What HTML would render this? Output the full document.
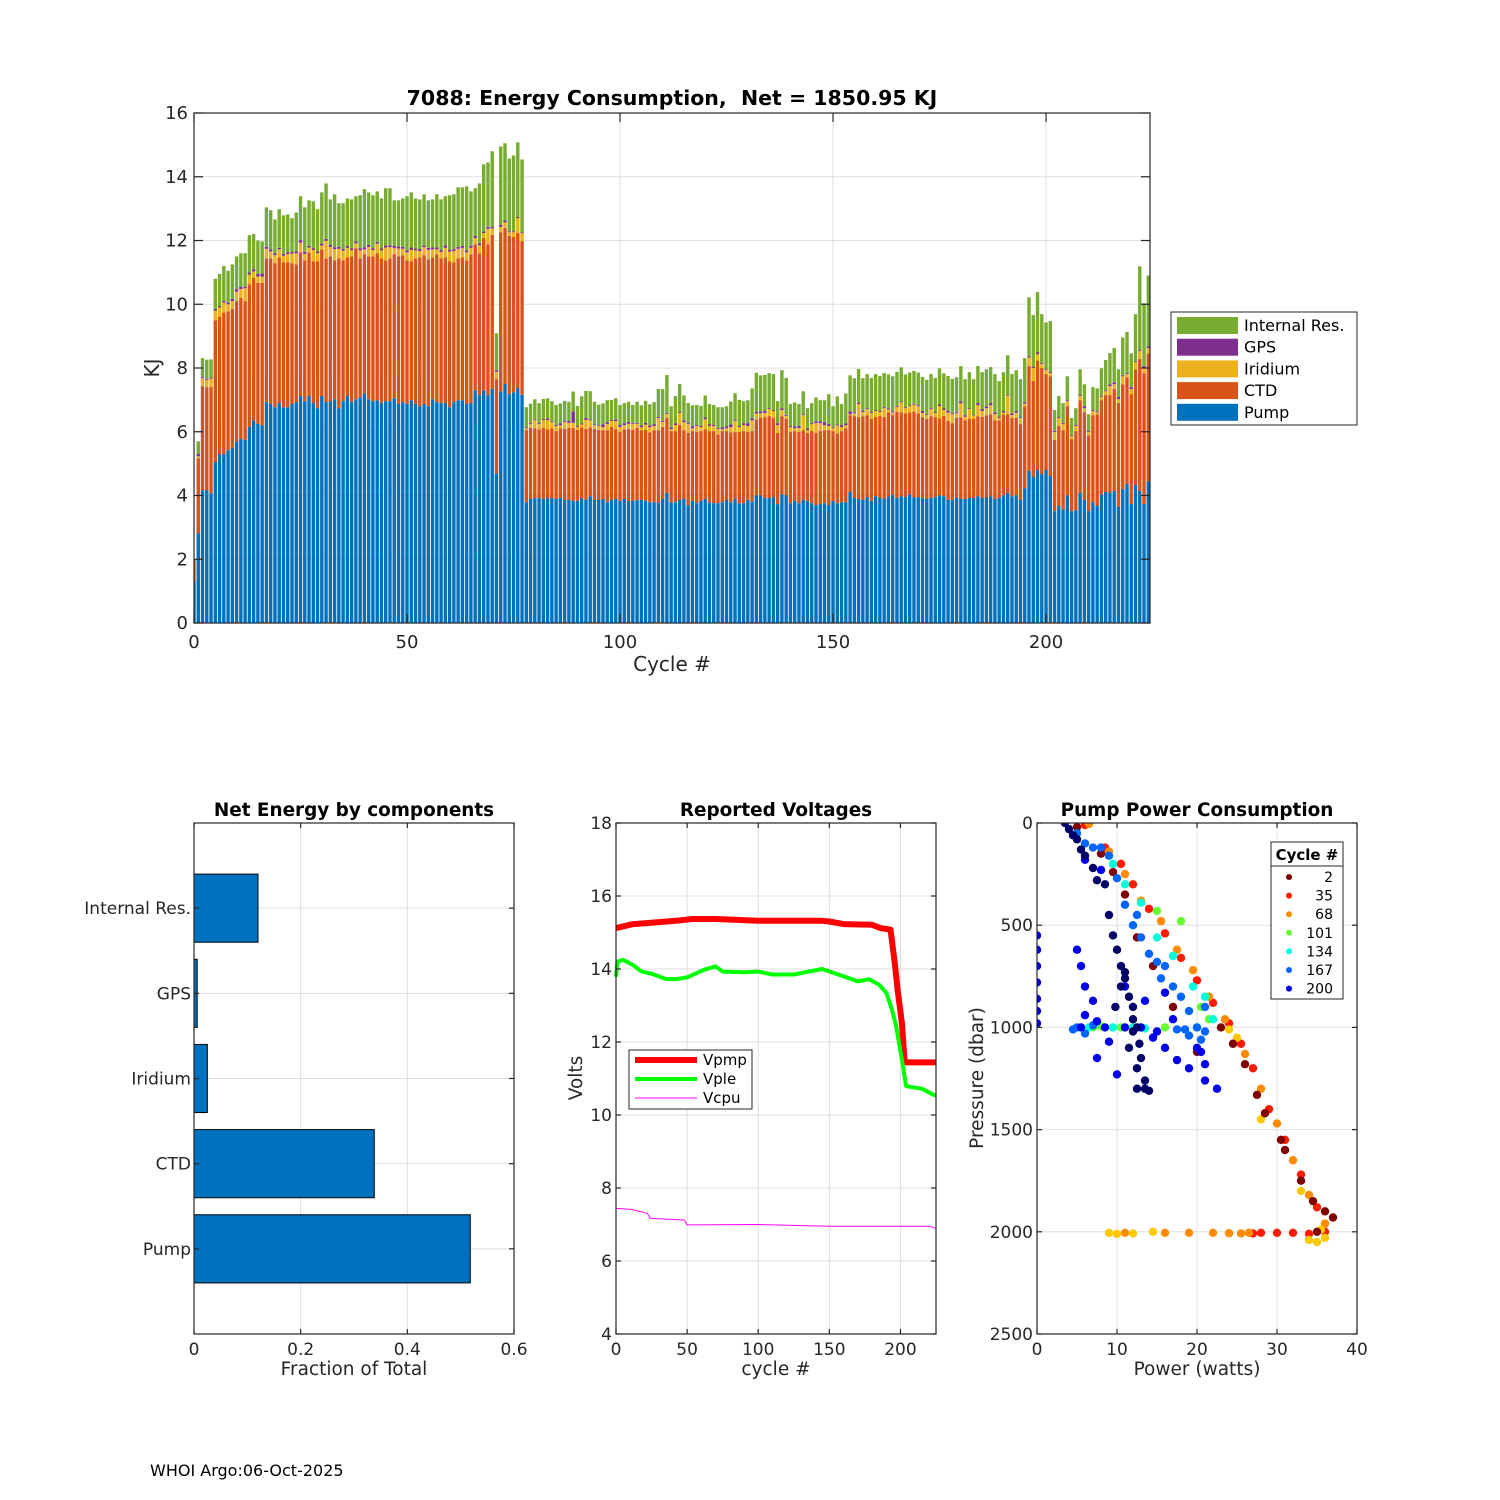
<!DOCTYPE html>
<html><head><meta charset="utf-8"><title>7088 Energy Consumption</title>
<style>
html,body{margin:0;padding:0;background:#fff;}
svg{display:block;font-family:"DejaVu Sans","Liberation Sans",sans-serif;}
text{white-space:pre;}
</style></head>
<body>
<svg id="fig" width="1500" height="1500" viewBox="0 0 1500 1500" xmlns="http://www.w3.org/2000/svg" xml:space="preserve"></svg>
<script>
// ---------- Top chart data (cycle 0..224), KJ ----------
const pump = [1.3,2.82,4.17,4.17,4.07,5.05,5.3,5.3,5.42,5.5,5.7,5.77,5.75,6.15,6.35,6.25,6.2,
6.93,6.87,6.77,6.90,6.77,6.77,6.87,6.93,7.12,6.96,7.12,6.90,6.74,7.12,6.93,6.96,7.02,6.74,6.96,7.12,6.93,7.02,7.08,7.21,7.02,6.96,6.99,6.90,6.96,6.96,7.05,6.87,6.93,6.87,6.99,6.87,6.80,6.87,6.80,7.02,6.93,6.90,6.90,6.77,6.93,6.99,6.99,6.87,6.90,7.30,7.15,
7.3,7.15,7.35,4.7,7.27,7.5,7.18,7.24,7.37,7.16,
3.79,3.89,3.92,3.92,3.89,3.92,3.92,3.89,3.92,3.86,3.86,3.83,3.83,3.92,3.86,3.98,3.86,3.86,3.89,3.79,3.86,3.89,3.83,3.89,3.83,3.83,3.86,3.86,3.83,3.79,3.79,3.79,3.89,4.08,3.79,3.79,3.86,3.89,3.70,3.83,3.76,3.83,3.89,3.79,3.76,3.76,3.79,3.86,
3.79,3.89,3.76,3.76,3.86,3.79,4.0,4.0,3.92,3.92,3.95,3.73,4.04,4.0,3.76,3.83,3.76,3.86,3.83,3.76,3.70,3.73,3.76,3.70,3.83,3.76,3.79,3.79,4.11,3.92,3.89,3.86,3.95,3.83,3.98,3.92,3.89,3.98,4.01,3.92,3.98,3.95,4.04,3.94,3.95,3.92,3.89,3.92,3.95,4.01,
3.98,3.86,3.86,3.92,3.89,3.89,3.92,3.92,3.98,3.92,3.95,3.98,3.89,3.92,4.01,4.08,3.98,4.01,3.86,4.23,4.77,4.58,4.8,4.67,4.8,4.61,3.51,3.67,3.57,4.01,3.51,3.54,4.08,3.86,3.51,3.79,3.67,4.04,4.11,4.08,4.14,3.64,4.2,4.36,3.73,4.33,4.14,3.73,4.45];
const ctd = [0.62,2.35,3.26,3.23,3.33,4.45,4.3,4.44,4.36,4.35,4.4,4.43,4.35,4.48,4.48,4.42,4.47,
4.51,4.57,4.52,4.57,4.55,4.55,4.42,4.32,4.51,4.42,4.51,4.45,4.61,4.60,4.51,4.54,4.36,4.70,4.42,4.35,4.57,4.74,4.36,4.36,4.48,4.54,4.61,4.54,4.42,4.48,4.52,4.63,4.61,4.51,4.36,4.57,4.67,4.67,4.61,4.45,4.64,4.54,4.57,4.58,4.39,4.45,4.48,4.51,4.67,4.58,4.45,
4.78,4.73,4.83,2.95,4.99,4.89,4.96,4.87,4.86,4.82,
2.26,2.23,2.19,2.16,2.23,2.16,2.19,2.13,2.19,2.23,2.26,2.29,2.23,2.22,2.23,2.16,2.23,2.20,2.16,2.26,2.29,2.19,2.16,2.19,2.26,2.23,2.26,2.19,2.23,2.19,2.26,2.26,2.26,2.35,2.23,2.23,2.35,2.16,2.26,2.19,2.23,2.19,2.19,2.23,2.26,2.16,2.23,2.16,
2.19,2.10,2.23,2.26,2.13,2.23,2.38,2.45,2.54,2.57,2.48,2.23,2.45,2.41,2.23,2.19,2.23,2.19,2.13,2.26,2.26,2.29,2.29,2.35,2.19,2.19,2.23,2.32,2.41,2.57,2.57,2.63,2.57,2.57,2.48,2.57,2.57,2.63,2.51,2.70,2.63,2.63,2.57,2.69,2.63,2.54,2.51,2.57,2.51,2.41,
2.52,2.48,2.41,2.52,2.56,2.47,2.49,2.48,2.51,2.55,2.57,2.57,2.47,2.44,2.54,2.47,2.45,2.42,2.38,2.57,3.29,3.01,3.44,3.33,3.01,3.13,2.23,2.51,2.48,2.79,2.26,2.48,2.91,2.75,2.38,2.73,2.88,2.95,3.04,3.07,3.2,3.26,3.29,3.35,3.45,3.63,4.14,4.11,4.01];
const iridium = [0,0.06,0.25,0.23,0.27,0.3,0.3,0.31,0.22,0.25,0.3,0.28,0.4,0.3,0.2,0.2,0.2,
.3,.22,.25,.25,.2,.25,.3,.35,.3,.2,.15,.35,.25,.12,.55,.3,.35,.3,.3,.3,.2,.15,.25,.15,.3,.2,.3,.25,.4,.35,.2,.25,.2,.25,.35,.25,.2,.25,.3,.25,.15,.2,.3,.3,.35,.3,.3,.25,.2,.2,.25,
.15,.49,.2,.23,.17,.18,.12,.15,.47,.25,
.06,.13,.25,.16,.25,.28,.19,.16,.09,.22,.16,.16,.09,.09,.28,.22,.13,.13,.09,.19,.19,.25,.16,.13,.16,.19,.13,.09,.16,.16,.13,.38,.16,.13,.06,.19,.38,.25,.28,.09,.19,.13,.31,.16,.16,.16,.06,.09,
.16,.34,.16,.19,.19,.34,.19,.13,.13,.22,.22,.25,.19,.09,.16,.09,.13,.47,.09,.22,.31,.25,.16,.13,.09,.25,.13,.09,.03,.09,.41,.13,.19,.19,.19,.13,.28,.09,.09,.16,.31,.16,.19,.22,.22,.13,.13,.22,.13,.38,
.18,.26,.28,.14,.44,.11,.30,.10,.34,.18,.22,.28,.19,.07,.05,.58,.09,.17,.19,.08,.27,.41,.19,.12,.12,.1,.25,.25,.19,.16,.09,.16,.13,.13,.1,.13,.06,.11,.12,.28,.15,.12,.25,.1,.16,.22,.25,.16,.16];
const gps = [0.03,0.07,0.03,0.03,0.03,0.05,0.05,0.05,0.05,0.07,0.07,0.07,0.05,0.07,0.07,0.08,0.1,
.06,.06,.06,.05,.06,.06,.05,.06,.08,.06,.05,.06,.06,.06,.06,.06,.06,.06,.06,.06,.06,.06,.06,.06,.06,.06,.06,.06,.06,.06,.06,.06,.06,.06,.08,.06,.06,.06,.06,.06,.06,.06,.08,.06,.06,.06,.06,.06,.06,.06,.06,
.05,.06,.05,.05,.06,.06,.03,.03,.04,.03,
.03,.03,.03,.03,.03,.06,.03,.03,.06,.03,.06,.36,.03,.03,.06,.03,.03,.03,.09,.06,.03,.06,.06,.06,.06,.03,.03,.06,.06,.06,.06,.03,.03,.03,.06,.06,.03,.06,.03,.06,.03,.03,.06,.06,.03,.03,.06,.06,
.09,.03,.03,.06,.09,.06,.06,.06,.06,.03,.03,.06,.06,.03,.03,.06,.06,.03,.06,.03,.06,.06,.09,.06,.03,.03,.06,.06,.09,.03,.03,.03,.03,.03,.03,.03,.03,.03,.03,.03,.03,.03,.03,.03,.03,.06,.03,.03,.03,.06,
.05,.06,.03,.03,.07,.05,.03,.02,.07,.06,.06,.07,.06,.03,.05,.03,.06,.05,.03,.05,.04,.03,.07,.03,.03,.03,.03,.03,.03,.03,.03,.03,.03,.06,.03,.03,.03,.03,.03,.06,.06,.07,.03,.03,.06,.03,.03,.06,.06];
const internal = [0.05,0.4,0.6,0.6,0.57,0.95,1.0,1.1,1.0,1.08,1.03,1.05,1.05,1.17,1.1,1.05,1.0,
1.24,1.23,1.06,1.21,1.21,1.19,1.06,1.22,1.38,1.4,1.43,1.47,1.32,1.61,1.74,1.43,1.66,1.37,1.43,1.49,1.53,1.42,1.67,1.83,1.65,1.66,1.58,1.57,1.80,1.79,1.43,1.45,1.52,1.70,1.73,1.57,1.56,1.60,1.49,1.51,1.67,1.59,1.54,1.71,1.72,1.87,1.84,2.01,1.71,1.5,1.88,
2.11,2.02,2.37,1.16,2.46,2.42,2.28,2.38,2.34,2.28,
.63,.6,.63,.63,.63,.63,.63,.63,.63,.63,.6,.62,.63,.85,.85,.88,.69,.63,.66,.69,.63,.66,.63,.63,.63,.56,.66,.63,.69,.66,.69,.88,1.0,1.19,.66,.85,.88,.78,.63,.66,.63,.63,.69,.63,.63,.66,.63,.63,
.72,.85,.82,.69,.72,.94,1.22,1.13,1.13,1.10,1.13,.69,1.19,1.16,.69,.75,.69,.72,.63,.63,.75,.66,.69,.94,.66,.88,.66,.94,1.13,1.07,1.07,1.03,1.07,1.07,1.13,1.10,1.07,1.07,1.10,1.07,1.07,1.03,1.03,1.03,1.03,1.07,1.07,1.07,1.07,1.13,
1.10,1.09,1.08,1.10,1.10,1.13,1.13,1.13,1.16,1.16,1.16,1.13,1.2,1.13,1.22,1.24,1.23,1.28,1.19,1.38,1.85,1.63,1.88,1.54,1.47,1.6,.66,.66,.63,.75,.54,.53,.81,.69,.53,.72,.72,.86,.95,.98,1.08,.87,1.19,1.29,1.06,1.48,2.63,1.97,2.22];
const topYTicks = [0,2,4,6,8,10,12,14,16];
const topXTicks = [0,50,100,150,200];
const legendLabels = ["Internal Res.","GPS","Iridium","CTD","Pump"];

// ---------- Bottom-left data ----------
const compNames = ["Pump","CTD","Iridium","GPS","Internal Res."];
const compFraction = [0.518,0.338,0.025,0.006,0.12];
const fracTicks = [0,0.2,0.4,0.6];

// ---------- Voltages ----------
const vpmpCyc = [0,12,26,42,54,70,100,145,150,160,180,186,193,196,198,201,203,225];
const vpmp = [15.12,15.23,15.27,15.32,15.37,15.37,15.32,15.32,15.3,15.23,15.21,15.12,15.08,14.16,13.43,12.52,11.44,11.44];
const vpleCyc = [0,1,5,12,18,25,35,42,50,62,70,75,90,100,110,125,145,160,170,178,185,190,194,197,201,204,215,225];
const vple = [13.79,14.2,14.25,14.11,13.93,13.87,13.73,13.72,13.77,13.98,14.07,13.93,13.91,13.93,13.85,13.85,14.0,13.8,13.66,13.72,13.57,13.35,12.89,12.43,11.52,10.79,10.72,10.52];
const vcpuCyc = [0,10,22,24,48,50,100,150,220,225];
const vcpu = [7.44,7.42,7.31,7.17,7.12,6.99,7.0,6.95,6.95,6.9];
const voltYTicks = [4,6,8,10,12,14,16,18];
const voltXTicks = [0,50,100,150,200];

// ---------- Pump power scatter (power W, pressure dbar) ----------
const c2P = [5,8,9.5,11,12.5,14.5,17,20,23,24.5,26,27.5,28.5,30.5,31,33,34.5,36,37,35];
const c2D = [20,150,240,350,560,700,900,1120,1000,1080,1180,1330,1420,1550,1600,1750,1850,1900,1930,2000];
const c35P = [6,8.5,10.5,12,14,16,18,20,22,24,25.5,27,29,31,33,35,30,32,34,36,28,27];
const c35D = [10,120,200,300,420,540,660,770,880,980,1080,1200,1400,1550,1720,1880,2005,2005,2010,2000,2005,2008];
const c68P = [6.5,9,11,13,15.5,17.5,19.5,21.5,23.5,26,28,30,32,34,36,22,24,25.5,26.5,11,16,19];
const c68D = [5,140,250,380,480,620,720,850,960,1130,1300,1470,1650,1820,1960,2005,2007,2008,2005,2005,2005,2005];
const c85P = [35,34,9,10,12,28,36,33,24,25,14.5,35.5];
const c85D = [2050,2040,2005,2010,2008,1450,2030,1800,1010,1050,2000,1990];
const c101P = [18,10.5,13,7,8,16,20.5,15,21.5];
const c101D = [480,1000,1000,1000,995,1000,900,430,960];
const c134P = [9.5,13,15,17,19.5,21,9.5,12,13.5,20,6.5,22,11];
const c134D = [200,390,560,650,800,850,1000,1000,1005,1000,1000,960,300];
const c167P = [5,6,7,11,12,14,16,18,19,20,21,17,15,13,6,5,7,4.5,20.5,18.5,8,9,10,12.5,15.5,19,21,17.5];
const c167D = [50,100,120,400,500,640,700,850,920,1000,900,800,680,560,1030,1000,990,1010,1060,1010,120,160,270,450,760,1040,1020,1010];
const c200P = [0,0,0,0,0,0,0,5,5.5,6,7,6,8.5,5.5,7.5,9,11,13,14.5,16,17.5,19,21,20.5,17,15,13.5,16,20,22.5,21,7.5,10,6,8,11];
const c200D = [550,620,700,780,860,920,980,620,700,800,870,940,1000,1000,970,1070,800,1000,1050,1100,1160,1200,1180,1120,960,1020,870,830,1100,1300,1260,1150,1230,180,230,1000];
const c220P = [3.5,4,5,6,7,7.5,8.5,9,9.5,10,10.5,11,11.5,12,12,12.5,12.8,13,12.5,13.5,13.5,12.5,14,11,10.5,12,11.5,9.8,4.5,5.5];
const c220D = [0,30,80,160,220,280,300,450,550,620,700,760,850,900,960,1000,1080,1150,1200,1260,1300,1300,1310,730,800,1020,1100,900,60,130];
const scatterLegend = ["2","35","68","101","134","167","200"];
const powTicks = [0,10,20,30,40];
const presTicks = [0,500,1000,1500,2000,2500];

// ---------- drawing ----------
const NS = "http://www.w3.org/2000/svg";
const svg = document.getElementById("fig");
function mk(tag, attrs, parent){
  const e = document.createElementNS(NS, tag);
  for (const k in attrs) e.setAttribute(k, attrs[k]);
  (parent||svg).appendChild(e);
  return e;
}
function txt(x,y,s,size,anchor,weight,parent){
  const t = mk("text",{x:x,y:y,"font-size":size,"text-anchor":anchor||"middle",fill:"#262626","font-weight":weight||"normal"},parent);
  t.textContent = s;
  return t;
}
function linScale(d0,d1,r0,r1){ return v => r0 + (v-d0)/(d1-d0)*(r1-r0); }

function frame(g,x0,y0,x1,y1,xt,yt,xs,ys){
  xt.forEach(v=>{ const x=xs(v);
    mk("line",{x1:x,y1:y0,x2:x,y2:y1,stroke:"#dfdfdf","stroke-width":1},g);});
  yt.forEach(v=>{ const y=ys(v);
    mk("line",{x1:x0,y1:y,x2:x1,y2:y,stroke:"#dfdfdf","stroke-width":1},g);});
}
function box(g,x0,y0,x1,y1,xt,yt,xs,ys,tl){
  mk("rect",{x:x0,y:y0,width:x1-x0,height:y1-y0,fill:"none",stroke:"#262626","stroke-width":1.2},g);
  xt.forEach(v=>{ const x=xs(v);
    mk("line",{x1:x,y1:y1,x2:x,y2:y1-tl,stroke:"#262626","stroke-width":1.2},g);
    mk("line",{x1:x,y1:y0,x2:x,y2:y0+tl,stroke:"#262626","stroke-width":1.2},g);});
  yt.forEach(v=>{ const y=ys(v);
    mk("line",{x1:x0,y1:y,x2:x0+tl,y2:y,stroke:"#262626","stroke-width":1.2},g);
    mk("line",{x1:x1,y1:y,x2:x1-tl,y2:y,stroke:"#262626","stroke-width":1.2},g);});
}

// ===== Top chart =====
{
  const g = mk("g",{});
  
  
  const X0=194,X1=1150,Y0=113,Y1=623;
  const xs = linScale(0,224.4,X0,X1), ys = linScale(0,16,Y1,Y0);
  frame(g,X0,Y0,X1,Y1,topXTicks,topYTicks,xs,ys);
  const cols = ["#0072BD","#D95319","#EDB120","#7E2F8E","#77AC30"];
  const series = [pump,ctd,iridium,gps,internal];
  const names = ["pump","ctd","iridium","gps","internal-res"];
  const clip = mk("clipPath",{id:"topclip"},g);
  mk("rect",{x:X0,y:Y0,width:X1-X0,height:Y1-Y0},clip);
  const bg = mk("g",{"clip-path":"url(#topclip)"},g);
  for (let i=0;i<pump.length;i++){
    let base=0;
    for (let s=0;s<5;s++){
      const v = series[s][i];
      const r = mk("rect",{x:xs(i-0.4),y:ys(base+v),width:xs(0.8)-xs(0),height:ys(base)-ys(base+v),fill:cols[s]},bg);
      
      
      base+=v;
    }
  }
  box(g,X0,Y0,X1,Y1,topXTicks,topYTicks,xs,ys,9);
  topYTicks.forEach(v=>{ const t=txt(X0-6,ys(v)+6,String(v),18,"end",null,g);
    
    });
  topXTicks.forEach(v=>{ const t=txt(xs(v),Y1+25,String(v),18,"middle",null,g);
    
    });
  const ti = txt(672,105,"7088: Energy Consumption,  Net = 1850.95 KJ",20.5,"middle","bold",g);
  ti.setAttribute('fill','#000');
  
  
  const xl = txt(672,671,"Cycle #",20,"middle",null,g);
  
  
  const yl = txt(0,0,"KJ",20,"middle",null,g);
  yl.setAttribute('transform','translate(159,368) rotate(-90)');
  
  
  const lg = mk("g",{},g);
  
  
  mk("rect",{x:1171,y:312,width:186,height:113,fill:"#fff",stroke:"#262626","stroke-width":1},lg);
  const lcols = ["#77AC30","#7E2F8E","#EDB120","#D95319","#0072BD"];
  legendLabels.forEach((s,k)=>{
    const yy = 325 + k*21.7;
    const p = mk("rect",{x:1177,y:yy-8,width:61,height:17,fill:lcols[k]},lg);
    
    
    const t = txt(1244,yy+6,s,16,"start",null,lg);
    t.setAttribute('fill','#000');
    
    
  });
}

// ===== Bottom-left =====
{
  const g = mk("g",{});
  
  
  const X0=194,X1=514,Y0=823,Y1=1334;
  const xs = linScale(0,0.6,X0,X1), ys = linScale(0,6,Y1,Y0);
  const cats=[1,2,3,4,5];
  frame(g,X0,Y0,X1,Y1,fracTicks,cats,xs,ys);
  compFraction.forEach((v,k)=>{
    const r = mk("rect",{x:xs(0),y:ys(k+1.4),width:xs(v)-xs(0),height:ys(k+0.6)-ys(k+1.4),fill:"#0072BD",stroke:"#000","stroke-width":1},g);
    
    
  });
  box(g,X0,Y0,X1,Y1,fracTicks,cats,xs,ys,5);
  compNames.forEach((s,k)=>{ const t=txt(X0-3,ys(k+1)+6,s,17,"end",null,g);
    
    });
  fracTicks.forEach(v=>{ const t=txt(xs(v),Y1+21,String(v),17,"middle",null,g);
    
    });
  const ti=txt(354,816,"Net Energy by components",18.4,"middle","bold",g);
  ti.setAttribute('fill','#000');
  
  
  const xl=txt(354,1375,"Fraction of Total",18.5,"middle",null,g);
  
  
}

// ===== Bottom-middle voltages =====
{
  const g = mk("g",{});
  
  
  const X0=616,X1=936,Y0=823,Y1=1334;
  const xs = linScale(0,225,X0,X1), ys = linScale(4,18,Y1,Y0);
  frame(g,X0,Y0,X1,Y1,voltXTicks,voltYTicks,xs,ys);
  function line(cyc,vals,col,w,name){
    let d="";
    cyc.forEach((c,k)=>{ d += (k?"L":"M")+xs(c).toFixed(1)+","+ys(vals[k]).toFixed(1); });
    const p = mk("path",{d:d,fill:"none",stroke:col,"stroke-width":w,"stroke-linejoin":"round"},g);
    
    
  }
  line(vpmpCyc,vpmp,"#ff0000",6,"vpmp-line");
  line(vpleCyc,vple,"#00ff00",4,"vple-line");
  line(vcpuCyc,vcpu,"#ff00ff",1,"vcpu-line");
  box(g,X0,Y0,X1,Y1,voltXTicks,voltYTicks,xs,ys,5);
  voltYTicks.forEach(v=>{ const t=txt(X0-4,ys(v)+6,String(v),17,"end",null,g);
    
    });
  voltXTicks.forEach(v=>{ const t=txt(xs(v),Y1+21,String(v),17,"middle",null,g);
    
    });
  const ti=txt(776,816,"Reported Voltages",18.4,"middle","bold",g);
  ti.setAttribute('fill','#000');
  
  
  const xl=txt(776,1375,"cycle #",18.5,"middle",null,g);
  
  
  const yl=txt(0,0,"Volts",18.5,"middle",null,g);
  yl.setAttribute('transform','translate(582,1078) rotate(-90)');
  
  
  const lg = mk("g",{},g);
  
  
  mk("rect",{x:629,y:1050,width:123,height:59,fill:"#fff",stroke:"#262626","stroke-width":1},lg);
  [["Vpmp","#ff0000",6],["Vple","#00ff00",4],["Vcpu","#ff00ff",1]].forEach((e,k)=>{
    const yy=1060+k*19;
    mk("line",{x1:635,y1:yy,x2:697,y2:yy,stroke:e[1],"stroke-width":e[2]},lg);
    const t=txt(703,yy+5,e[0],15,"start",null,lg);
    t.setAttribute('fill','#000');
    
    
  });
}

// ===== Bottom-right scatter =====
{
  const g = mk("g",{});
  
  
  const X0=1037,X1=1357,Y0=823,Y1=1334;
  const xs = linScale(0,40,X0,X1), ys = linScale(0,2500,Y0,Y1);
  frame(g,X0,Y0,X1,Y1,powTicks,presTicks,xs,ys);
  const groups = [
    [c35P,c35D,"#ff1a00","cycle-35"],
    [c68P,c68D,"#ff8c00","cycle-68"],
    [c85P,c85D,"#ffc800","cycle-85"],
    [c2P,c2D,"#800000","cycle-2"],
    [c101P,c101D,"#66ff33","cycle-101"],
    [c134P,c134D,"#00ffdd","cycle-134"],
    [c167P,c167D,"#0066ff","cycle-167"],
    [c200P,c200D,"#0000ee","cycle-200"],
    [c220P,c220D,"#000066","cycle-220"]];
  const clip = mk("clipPath",{id:"scclip"},g);
  mk("rect",{x:X0,y:Y0,width:X1-X0,height:Y1-Y0},clip);
  const sg = mk("g",{"clip-path":"url(#scclip)"},g);
  groups.forEach(gr=>{
    gr[0].forEach((p,k)=>{
      const c = mk("circle",{cx:xs(p),cy:ys(gr[1][k]),r:4.2,fill:gr[2]},sg);
      
      
    });
  });
  box(g,X0,Y0,X1,Y1,powTicks,presTicks,xs,ys,5);
  presTicks.forEach(v=>{ const t=txt(X0-4,ys(v)+6,String(v),17,"end",null,g);
    
    });
  powTicks.forEach(v=>{ const t=txt(xs(v),Y1+21,String(v),17,"middle",null,g);
    
    });
  const ti=txt(1197,816,"Pump Power Consumption",18.4,"middle","bold",g);
  ti.setAttribute('fill','#000');
  
  
  const xl=txt(1197,1375,"Power (watts)",18.5,"middle",null,g);
  
  
  const yl=txt(0,0,"Pressure (dbar)",18.5,"middle",null,g);
  yl.setAttribute('transform','translate(983,1078) rotate(-90)');
  
  
  const lg = mk("g",{},g);
  
  
  mk("rect",{x:1271,y:842,width:72,height:157,fill:"#fff",stroke:"#262626","stroke-width":1},lg);
  mk("line",{x1:1271,y1:866,x2:1343,y2:866,stroke:"#262626","stroke-width":1},lg);
  const lt=txt(1307,860,"Cycle #",15,"middle","bold",lg);
  lt.setAttribute('fill','#000');
  
  
  const lc=["#800000","#ff1a00","#ff8c00","#66ff33","#00ffdd","#0066ff","#0000ee"];
  scatterLegend.forEach((s,k)=>{
    const yy=877+k*18.6;
    mk("circle",{cx:1289,cy:yy,r:3,fill:lc[k]},lg);
    const t=txt(1333,yy+5,s,14,"end",null,lg);
    t.setAttribute('fill','#000');
    
    
  });
}

const ft = txt(150,1476,"WHOI Argo:06-Oct-2025",16,"start");
ft.setAttribute('fill','#000');


</script>
</body></html>
